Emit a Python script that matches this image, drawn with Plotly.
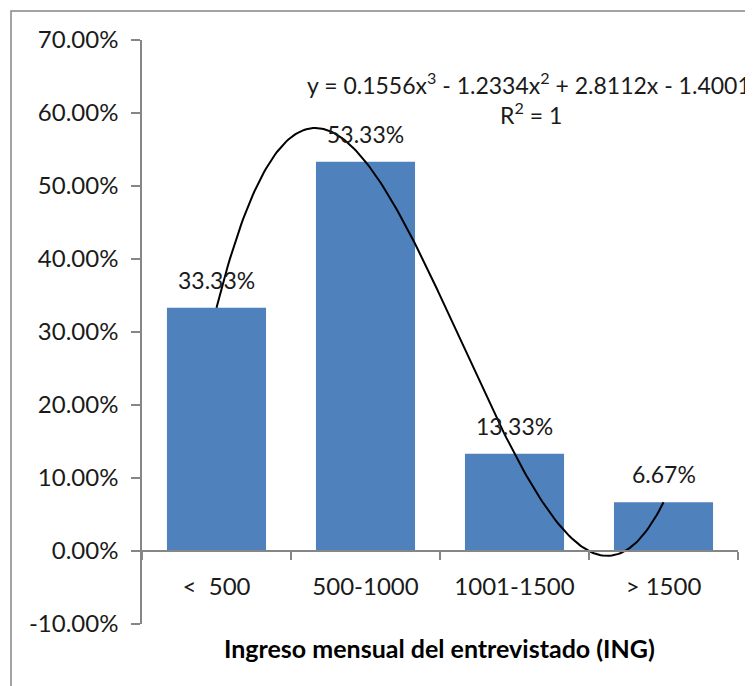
import numpy as np
import plotly.graph_objects as go

categories = ["<  500", "500-1000", "1001-1500", "> 1500"]
positions = [1, 2, 3, 4]
shares = [0.3333, 0.5333, 0.1333, 0.0667]
y_ticks = [-0.1, 0.0, 0.1, 0.2, 0.3, 0.4, 0.5, 0.6, 0.7]
equation = "y = 0.1556x<sup>3</sup> - 1.2334x<sup>2</sup> + 2.8112x - 1.4001"
r2_text = "R<sup>2</sup> = 1"
x_title = "Ingreso mensual del entrevistado (ING)"

FONT = "Lato, Carlito, Calibri, sans-serif"
AXIS_GRAY = "#868686"
BAR_BLUE = "#4F81BD"

# polynomial trendline (order 3) fitted to the bar values, as the spreadsheet does
coef = np.polyfit(positions, shares, 3)
xs = np.linspace(positions[0], positions[-1], 200)
ys = np.polyval(coef, xs)

fig = go.Figure()
fig.add_trace(go.Bar(
    x=positions, y=shares, width=0.665,
    marker=dict(color=BAR_BLUE, line=dict(width=0)),
    hoverinfo="skip", showlegend=False,
))
fig.add_trace(go.Scatter(
    x=xs, y=ys, mode="lines",
    line=dict(color="black", width=2),
    hoverinfo="skip", showlegend=False,
))

annotations = []
for xv, v in zip(positions, shares):
    annotations.append(dict(
        x=xv, y=v, xref="x", yref="y", text=f"{v*100:.2f}%",
        showarrow=False, yanchor="bottom", yshift=12,
        font=dict(family=FONT, size=23, color="#1a1a1a"),
    ))

annotations.append(dict(
    x=(305 - 142) / 596, y=(624 - 83) / 584, xref="paper", yref="paper",
    text=equation, showarrow=False, xanchor="left", yanchor="middle",
    font=dict(family=FONT, size=23, color="#1a1a1a"),
))
annotations.append(dict(
    x=(531 - 142) / 596, y=(624 - 114) / 584, xref="paper", yref="paper",
    text=r2_text, showarrow=False, xanchor="center", yanchor="middle",
    font=dict(family=FONT, size=23, color="#1a1a1a"),
))
annotations.append(dict(
    x=(439 - 142) / 596, y=(624 - 648) / 584, xref="paper", yref="paper",
    text=f"<b>{x_title}</b>", showarrow=False, xanchor="center", yanchor="middle",
    font=dict(family=FONT, size=25, color="black"),
))

zero_pos = (0 - y_ticks[0]) / (y_ticks[-1] - y_ticks[0])

fig.update_layout(
    width=745, height=678,
    margin=dict(l=134, r=15, t=32, b=62),
    paper_bgcolor="white", plot_bgcolor="white",
    bargap=0.33,
    annotations=annotations,
    shapes=[dict(
        type="rect", xref="paper", yref="paper",
        x0=(11 - 142) / 596, x1=1.2, y0=-0.3, y1=(624 - 11) / 584,
        line=dict(color=AXIS_GRAY, width=1.5), fillcolor="rgba(0,0,0,0)",
        layer="below",
    )],
    xaxis=dict(
        range=[0.5, 4.5], tickmode="array", tickvals=positions, ticktext=categories,
        ticks="", showgrid=False, zeroline=False, automargin=False,
        showline=True, linecolor=AXIS_GRAY, linewidth=1.5,
        anchor="free", position=zero_pos,
        minor=dict(tick0=0.5, dtick=1, ticks="outside", ticklen=8,
                   tickcolor=AXIS_GRAY, tickwidth=1.5, showgrid=False),
        ticklabelstandoff=14,
        tickfont=dict(family=FONT, size=24, color="#1a1a1a"),
    ),
    yaxis=dict(
        range=[y_ticks[0], y_ticks[-1]], tickmode="array", tickvals=y_ticks,
        ticktext=[f"{t*100:.2f}%" for t in y_ticks],
        ticks="outside", ticklen=9, tickcolor=AXIS_GRAY, tickwidth=1.5,
        showgrid=False, zeroline=False, automargin=False,
        showline=True, linecolor=AXIS_GRAY, linewidth=1.5,
        ticklabelstandoff=8,
        tickfont=dict(family=FONT, size=24, color="#1a1a1a"),
    ),
)

fig.write_html("out.html")
